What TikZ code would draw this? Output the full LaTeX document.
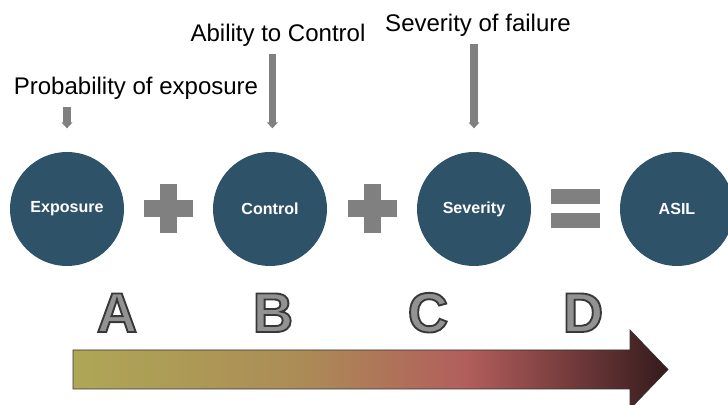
\documentclass[tikz,border=0pt]{standalone}
\usepackage{fontspec}
\setmainfont{Liberation Sans}
\usetikzlibrary{arrows.meta,calc}

\definecolor{asilblue}{RGB}{46,83,104}
\definecolor{signgray}{RGB}{128,128,128}
\definecolor{lettergray}{RGB}{146,146,146}
\definecolor{barA}{RGB}{174,167,86}
\definecolor{barB}{RGB}{172,140,86}
\definecolor{barC}{RGB}{178,94,92}
\definecolor{barD}{RGB}{122,62,62}
\definecolor{barE}{RGB}{52,27,29}

\pgfdeclarehorizontalshading{asilbar}{100bp}{color(0bp)=(barA); color(25bp)=(barA);
  color(44bp)=(barB); color(58bp)=(barC); color(66bp)=(barD); color(75bp)=(barE); color(100bp)=(barE)}

% hollow grade letters: fill plus dark stroke
\newcommand{\outl}[1]{\special{pdf:literal direct 2 Tr 1.6 w 0.22 0.22 0.22 RG}#1\special{pdf:literal direct 0 Tr}}

\begin{document}
\begin{tikzpicture}[x=0.03cm,y=0.03cm,
  risk/.style={circle, fill=asilblue, text=white, minimum size=3.42cm, inner sep=0pt,
    font=\bfseries\fontsize{13.7}{15}\selectfont},
  caption/.style={anchor=base, inner sep=0pt, font=\fontsize{20.5}{24}\selectfont},
  grade/.style={anchor=base, inner sep=0pt, text=lettergray, font=\bfseries\fontsize{47.8}{50}\selectfont},
  feed/.style={signgray, line width=6pt, -{Triangle[width=9pt,length=5pt]}, shorten <=6pt, shorten >=20pt}]
\useasboundingbox (0,0) rectangle (728,-405);
\clip (0,0) rectangle (728,-405);
\fill [white] (0,0) rectangle (728,-405);

% the three factors and the result
\node [risk] (expo) at (67,-209) {Exposure};
\node [risk] (ctrl) at (270,-209) {Control};
\node [risk] (sev) at (474,-209) {Severity};
\node [risk] (asil) at (677,-209) {ASIL};

\node [caption] (probtxt) at (136,-95) {Probability of exposure};
\node [caption] (ctrltxt) at (278,-42) {Ability to Control};
\node [caption] (sevtxt) at (478,-32) {Severity of failure};

\draw [feed] (probtxt.south -| expo.north) -- (expo.north);
\draw [feed] ([xshift=2pt]ctrltxt.south -| ctrl.north) -- ([xshift=2pt]ctrl.north);
\draw [feed] (sevtxt.south -| sev.north) -- (sev.north);

% plus and equals signs
\coordinate (plusA) at ($(expo.east)!0.5!(ctrl.west)$);
\coordinate (plusB) at ($(ctrl.east)!0.5!(sev.west)$);
\coordinate (equal) at ($(sev.east)!0.5!(asil.west)$);
\foreach \p in {plusA,plusB} {
  \fill [signgray] ($(\p)+(-24.5,8.5)$) rectangle ($(\p)+(24.5,-8.5)$);
  \fill [signgray] ($(\p)+(-8.5,24.5)$) rectangle ($(\p)+(8.5,-24.5)$);
}
\fill [signgray] ($(equal)+(-24.5,20)$) rectangle ($(equal)+(24.5,5)$);
\fill [signgray] ($(equal)+(-24.5,-4)$) rectangle ($(equal)+(24.5,-19)$);

% ASIL grades
\node [grade] (gA) at (117,-332) {\outl{A}};
\node [grade] (gB) at (273,-332) {\outl{B}};
\node [grade] (gC) at (428,-332) {\outl{C}};
\node [grade] (gD) at (583,-332) {\outl{D}};

% rising scale
\shade [shading=asilbar, draw=black!80, line width=0.6pt]
  (73,-350) -- (630,-350) -- (630,-330) -- (668,-369.5) -- (630,-409) -- (630,-389) -- (73,-389) -- cycle;
\end{tikzpicture}
\end{document}
